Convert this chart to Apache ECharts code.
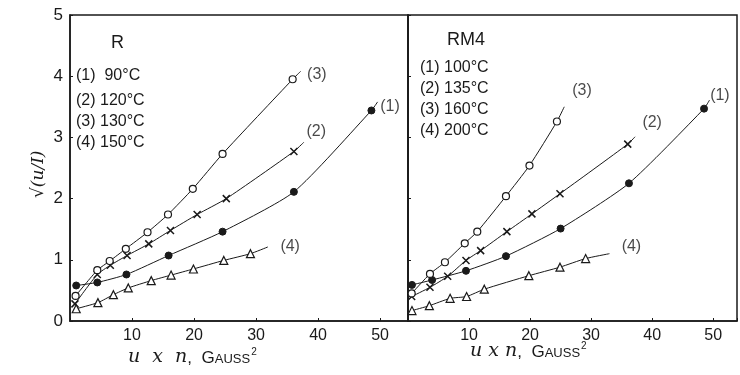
<!DOCTYPE html>
<html><head><meta charset="utf-8">
<script src="https://cdn.jsdelivr.net/npm/echarts@6/dist/echarts.min.js"></script>
<style>html,body{margin:0;padding:0;background:#fff}#c{width:740px;height:375px}</style>
</head><body><div id="c"></div>
<script>
// ---- data (x = u·n in Gauss², y = sqrt(u/I)) ----
const xTicks = [0, 10, 20, 30, 40, 50];
const yTicks = [0, 1, 2, 3, 4, 5];

// Panel R
const R1 = [[1.0,0.58],[4.4,0.63],[9.1,0.76],[15.9,1.07],[24.6,1.46],[36.1,2.11],[48.6,3.44]];
const R2 = [[0.8,0.28],[4.4,0.76],[6.5,0.91],[9.2,1.07],[12.7,1.26],[16.2,1.48],[20.5,1.74],[25.2,2.0],[36.1,2.77]];
const R3 = [[0.9,0.41],[4.4,0.83],[6.4,0.98],[9.0,1.18],[12.5,1.45],[15.8,1.74],[19.8,2.16],[24.6,2.73],[35.9,3.95]];
const R4 = [[1.0,0.20],[4.5,0.30],[7.0,0.43],[9.4,0.54],[13.1,0.66],[16.3,0.75],[19.9,0.85],[24.8,0.99],[29.1,1.10]];
const RcurveEnd = [[49.6,3.58],[37.7,2.92],[37.2,4.08],[31.9,1.21]];
const Rtitle = 'R';
const Rlegend = ['(1)  90°C','(2) 120°C','(3) 130°C','(4) 150°C'];

// Panel RM4
const M1 = [[0.65,0.59],[3.95,0.67],[9.5,0.82],[16.05,1.06],[25.0,1.51],[36.2,2.25],[48.5,3.47]];
const M2 = [[0.6,0.40],[3.6,0.55],[6.5,0.73],[9.5,0.99],[11.9,1.15],[16.2,1.46],[20.3,1.75],[24.9,2.08],[36.0,2.89]];
const M3 = [[0.6,0.45],[3.6,0.77],[6.05,0.96],[9.3,1.27],[11.35,1.46],[16.05,2.04],[19.9,2.54],[24.4,3.26]];
const M4 = [[0.65,0.17],[3.5,0.25],[6.9,0.37],[9.6,0.40],[12.5,0.52],[19.8,0.74],[24.9,0.88],[29.1,1.02]];
const McurveEnd = [[49.4,3.61],[37.2,3.01],[25.6,3.5],[33.0,1.10]];
const Mtitle = 'RM4';
const Mlegend = ['(1) 100°C','(2) 135°C','(3) 160°C','(4) 200°C'];

const curveNames = ['(1)','(2)','(3)','(4)'];
const RlabelPos = [[51.6,3.5],[39.7,3.09],[39.8,4.02],[35.5,1.21]];
const MlabelPos = [[51.1,3.69],[40.0,3.25],[28.5,3.77],[36.6,1.21]];

// ---- styling ----
const INK = '#1a1a1a';
const FONT = '"Liberation Sans", "DejaVu Sans", sans-serif';
const crossPath = 'path://M0,0L10,10M10,0L0,10';
const symStyles = [
  {symbol:'circle', symbolSize:7, itemStyle:{color:INK, borderColor:INK, borderWidth:1}},
  {symbol:crossPath, symbolSize:7, itemStyle:{color:INK, borderColor:INK, borderWidth:1.5}},
  {symbol:'circle', symbolSize:7, itemStyle:{color:'#fff', borderColor:INK, borderWidth:1.2}},
  {symbol:'triangle', symbolSize:8, itemStyle:{color:'#fff', borderColor:INK, borderWidth:1.2}}
];

const chart = echarts.init(document.getElementById('c'), null, {renderer:'canvas'});

function xAxis(gi, max){
  return {gridIndex:gi, type:'value', min:0, max:max, interval:10,
    axisLine:{show:true, onZero:false, lineStyle:{color:INK, width:1.5}},
    axisTick:{show:true, inside:true, length:3, lineStyle:{color:INK}},
    splitLine:{show:false},
    axisLabel:{color:INK, fontSize:16, fontFamily:FONT, margin:7,
      formatter:v => (v>0 && v%10===0 && xTicks.includes(v)) ? String(v) : ''}};
}
function yAxis(gi, labels){
  return {gridIndex:gi, type:'value', min:yTicks[0], max:yTicks[yTicks.length-1], interval:1,
    axisLine:{show:true, lineStyle:{color:INK, width:1.5}},
    axisTick:{show:true, inside:true, length:3, lineStyle:{color:INK}},
    splitLine:{show:false},
    axisLabel:{show:labels, color:INK, fontSize:17, fontFamily:FONT, margin:7}};
}

const series = [];
function addPanel(gi, data, ends, lpos){
  data.forEach((d, i) => {
    series.push(Object.assign({type:'line', xAxisIndex:gi, yAxisIndex:gi, smooth:0.2,
      lineStyle:{color:INK, width:1}, z:3,
      data: d.map(p => p).concat([{value:ends[i], symbol:'none'}])}, symStyles[i]));
  });
  series.push({type:'scatter', xAxisIndex:gi, yAxisIndex:gi, symbolSize:0, silent:true,
    data: lpos.map((p,i)=>({value:p, name:curveNames[i]})),
    label:{show:true, position:'inside', formatter:p=>p.name, color:INK, fontSize:16, fontFamily:FONT}});
}
addPanel(0, [R1,R2,R3,R4], RcurveEnd, RlabelPos);
addPanel(1, [M1,M2,M3,M4], McurveEnd, MlabelPos);

const txt = (x, y, t, size, extra) => Object.assign({type:'text', left:x, top:y,
  style:{text:t, fill:INK, font:`${size||16}px ${FONT}`}}, extra||{});

const rich = {
  i:{font:'italic 19px "DejaVu Serif", serif', fill:INK, lineHeight:20, verticalAlign:'bottom'},
  g:{font:`17px ${FONT}`, fill:INK, lineHeight:18, verticalAlign:'bottom'},
  s:{font:`13px ${FONT}`, fill:INK, lineHeight:14, verticalAlign:'bottom', padding:[0,0,1,0]},
  p:{font:`10px ${FONT}`, fill:INK, lineHeight:10, verticalAlign:'top', padding:[0,0,0,1]}};

const graphics = [
  txt(111, 34, Rtitle, 18),
  txt(76, 68, Rlegend[0]), txt(76, 93, Rlegend[1]), txt(76, 114, Rlegend[2]), txt(76, 135, Rlegend[3]),
  txt(447, 31, Mtitle, 18),
  txt(420, 60, Mlegend[0]), txt(420, 81, Mlegend[1]), txt(420, 102, Mlegend[2]), txt(420, 123, Mlegend[3]),
  {type:'text', x:30, y:198, rotation:Math.PI/2,
    style:{text:'√(u/I)', fill:INK, font:`italic 17px "DejaVu Serif", serif`}},
  {type:'text', left:128, top:347, style:{rich:rich, text:'{i|u  x  n}{g|,  G}{s|AUSS}{p|2}'}},
  {type:'text', left:470, top:341, style:{rich:rich, text:'{i|u x n}{g|,  G}{s|AUSS}{p|2}'}}
];

chart.setOption({
  animation:false,
  backgroundColor:'#fff',
  grid:[
    {left:70, top:15, width:338, height:306, show:true, borderColor:INK, borderWidth:1.5, backgroundColor:'transparent'},
    {left:408, top:15, width:334, height:306, show:true, borderColor:INK, borderWidth:1.5, backgroundColor:'transparent'}
  ],
  xAxis:[xAxis(0, 54.5), xAxis(1, 53.9)],
  yAxis:[yAxis(0, true), yAxis(1, false)],
  series: series,
  graphic: graphics
});
</script></body></html>
